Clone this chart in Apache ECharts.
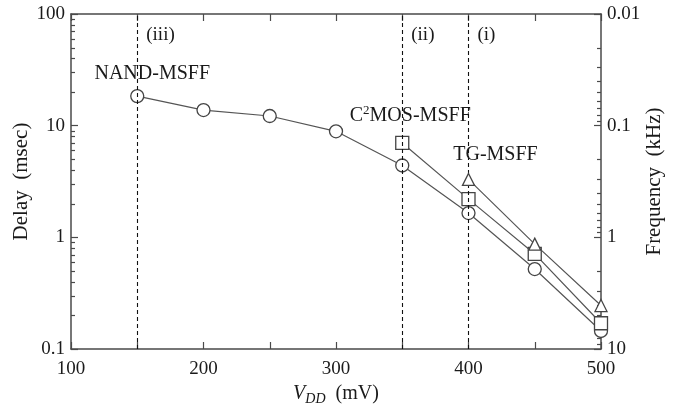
<!DOCTYPE html>
<html>
<head>
<meta charset="utf-8">
<script src="https://cdn.jsdelivr.net/npm/echarts@6/dist/echarts.min.js"></script>
<style>html,body{margin:0;padding:0;background:#fff}#c{width:679px;height:407px}</style>
</head>
<body>
<div id="c"></div>
<script>
// ---- data ----
const nandVdd = [150, 200, 250, 300, 350, 400, 450, 500];
const nandDelay = [18.4, 13.8, 12.2, 8.9, 4.4, 1.65, 0.52, 0.145];
const c2mosVdd = [350, 400, 450, 500];
const c2mosDelay = [7.0, 2.2, 0.71, 0.17];
const tgVdd = [400, 450, 500];
const tgDelay = [3.3, 0.87, 0.245];
const regionVdd = [150, 350, 400];
const regionLabels = ['(iii)', '(ii)', '(i)'];
const seriesNames = ['NAND-MSFF', 'C2MOS-MSFF', 'TG-MSFF'];
const delayMinorBases = [0.1, 1, 10];
const freqMinorBases = [0.01, 0.1, 1];

const FONT = "'Liberation Serif','Times New Roman',serif";
const TXT = '#1a1a1a';
const AX = '#4a4a4a';
const LINE = '#555';

function pairs(xs, ys) { return xs.map((x, i) => [x, ys[i]]); }

function withFirstLabel(data, label) {
  return data.map((d, i) => i === 0 ? { value: d, label: Object.assign({ show: true }, label) } : { value: d });
}

const baseLabel = { fontFamily: FONT, fontSize: 20, color: TXT, position: 'top' };

const chart = echarts.init(document.getElementById('c'), null, { renderer: 'canvas' });

const option = {
  animation: false,
  backgroundColor: '#fff',
  textStyle: { fontFamily: FONT, color: TXT },
  grid: { left: 71, right: 78, top: 14, bottom: 58, containLabel: false, outerBoundsMode: 'none' },
  xAxis: [
    {
      type: 'value', min: 100, max: 500, interval: 50, position: 'bottom',
      name: '{v|V}{s|DD}{n|  (mV)}', nameLocation: 'middle', nameGap: 32,
      nameTextStyle: {
        rich: {
          v: { fontFamily: FONT, fontSize: 20, fontStyle: 'italic', color: TXT },
          s: { fontFamily: FONT, fontSize: 14, fontStyle: 'italic', color: TXT, padding: [10, 0, 0, 0] },
          n: { fontFamily: FONT, fontSize: 20, color: TXT }
        }
      },
      axisLine: { show: true, lineStyle: { color: AX, width: 1.5 } },
      axisTick: { show: true, inside: true, length: 7, lineStyle: { color: AX, width: 1.2 } },
      axisLabel: { fontFamily: FONT, fontSize: 19, color: TXT, margin: 11,
        formatter: v => (v % 100 === 0 ? String(v) : '') },
      splitLine: { show: false }
    },
    {
      type: 'value', min: 100, max: 500, interval: 50, position: 'top',
      axisLine: { show: true, lineStyle: { color: AX, width: 1.5 } },
      axisTick: { show: true, inside: true, length: 7, lineStyle: { color: AX, width: 1.2 } },
      axisLabel: { show: false },
      splitLine: { show: false }
    }
  ],
  yAxis: [
    {
      type: 'log', logBase: 10, min: 0.1, max: 100, position: 'left',
      name: 'Delay  (msec)', nameLocation: 'middle', nameRotate: 90, nameGap: 39,
      nameMoveOverlap: false,
      nameTextStyle: { fontFamily: FONT, fontSize: 21, color: TXT },
      axisLine: { show: true, lineStyle: { color: AX, width: 1.5 } },
      axisTick: { show: true, inside: true, length: 7, lineStyle: { color: AX, width: 1.2 } },
      axisLabel: { fontFamily: FONT, fontSize: 19, color: TXT, margin: 6,
        formatter: v => String(+v.toPrecision(3)) },
      splitLine: { show: false }
    },
    {
      type: 'log', logBase: 10, min: 0.01, max: 10, inverse: true, position: 'right',
      name: 'Frequency  (kHz)', nameLocation: 'middle', nameRotate: 90, nameGap: 43,
      nameMoveOverlap: false,
      nameTextStyle: { fontFamily: FONT, fontSize: 21, color: TXT },
      axisLine: { show: true, lineStyle: { color: AX, width: 1.5 } },
      axisTick: { show: true, inside: true, length: 7, lineStyle: { color: AX, width: 1.2 } },
      axisLabel: { fontFamily: FONT, fontSize: 19, color: TXT, margin: 6,
        formatter: v => String(+v.toPrecision(3)) },
      splitLine: { show: false }
    }
  ],
  series: [
    {
      name: seriesNames[0], type: 'line', xAxisIndex: 0, yAxisIndex: 0,
      data: withFirstLabel(pairs(nandVdd, nandDelay),
        Object.assign({}, baseLabel, { formatter: seriesNames[0], offset: [15, 0] })),
      symbol: 'circle', symbolSize: 13,
      lineStyle: { color: LINE, width: 1.2 },
      itemStyle: { color: '#fff', borderColor: '#444', borderWidth: 1.3 },
      label: { show: false },
      markLine: {
        silent: true, symbol: ['none', 'none'],
        lineStyle: { type: [4, 3], color: '#111', width: 1.1 },
        label: { show: false },
        data: regionVdd.map(v => ({ xAxis: v }))
      },
      z: 3
    },
    {
      name: seriesNames[1], type: 'line', xAxisIndex: 0, yAxisIndex: 0,
      data: withFirstLabel(pairs(c2mosVdd, c2mosDelay),
        Object.assign({}, baseLabel, {
          formatter: '{a|C}{sup|2}{a|MOS-MSFF}', offset: [8, -4],
          rich: {
            a: { fontFamily: FONT, fontSize: 20, color: TXT },
            sup: { fontFamily: FONT, fontSize: 13, color: TXT, padding: [0, 0, 10, 0] }
          }
        })),
      symbol: 'rect', symbolSize: 13,
      lineStyle: { color: LINE, width: 1.2 },
      itemStyle: { color: '#fff', borderColor: '#444', borderWidth: 1.3 },
      label: { show: false },
      z: 4
    },
    {
      name: seriesNames[2], type: 'line', xAxisIndex: 0, yAxisIndex: 0,
      data: withFirstLabel(pairs(tgVdd, tgDelay),
        Object.assign({}, baseLabel, { formatter: seriesNames[2], offset: [27, -3] })),
      symbol: 'triangle', symbolSize: 12,
      lineStyle: { color: LINE, width: 1.2 },
      itemStyle: { color: '#fff', borderColor: '#444', borderWidth: 1.3 },
      label: { show: false },
      z: 5
    }
  ]
};

chart.setOption(option);

// decorations: log minor ticks and region labels, placed through the axes
const gLeft = chart.convertToPixel({ xAxisIndex: 0 }, 100);
const gRight = chart.convertToPixel({ xAxisIndex: 0 }, 500);
const gTop = chart.convertToPixel({ yAxisIndex: 0 }, 100);
const graphics = [];
delayMinorBases.forEach(b => {
  for (let k = 2; k <= 9; k++) {
    const y = Math.round(chart.convertToPixel({ yAxisIndex: 0 }, k * b)) + 0.5;
    graphics.push({ type: 'line', shape: { x1: gLeft, y1: y, x2: gLeft + 4, y2: y },
      style: { stroke: AX, lineWidth: 1.2 }, silent: true });
  }
});
freqMinorBases.forEach(b => {
  for (let k = 2; k <= 9; k++) {
    const y = Math.round(chart.convertToPixel({ yAxisIndex: 1 }, k * b)) + 0.5;
    graphics.push({ type: 'line', shape: { x1: gRight - 4, y1: y, x2: gRight, y2: y },
      style: { stroke: AX, lineWidth: 1.2 }, silent: true });
  }
});
regionVdd.forEach((v, i) => {
  const x = chart.convertToPixel({ xAxisIndex: 0 }, v);
  graphics.push({ type: 'text', x: x + 9, y: gTop + 21,
    style: { text: regionLabels[i], font: '19px ' + FONT, fill: TXT, textVerticalAlign: 'middle' },
    silent: true });
});
chart.setOption({ graphic: graphics });
</script>
</body>
</html>
